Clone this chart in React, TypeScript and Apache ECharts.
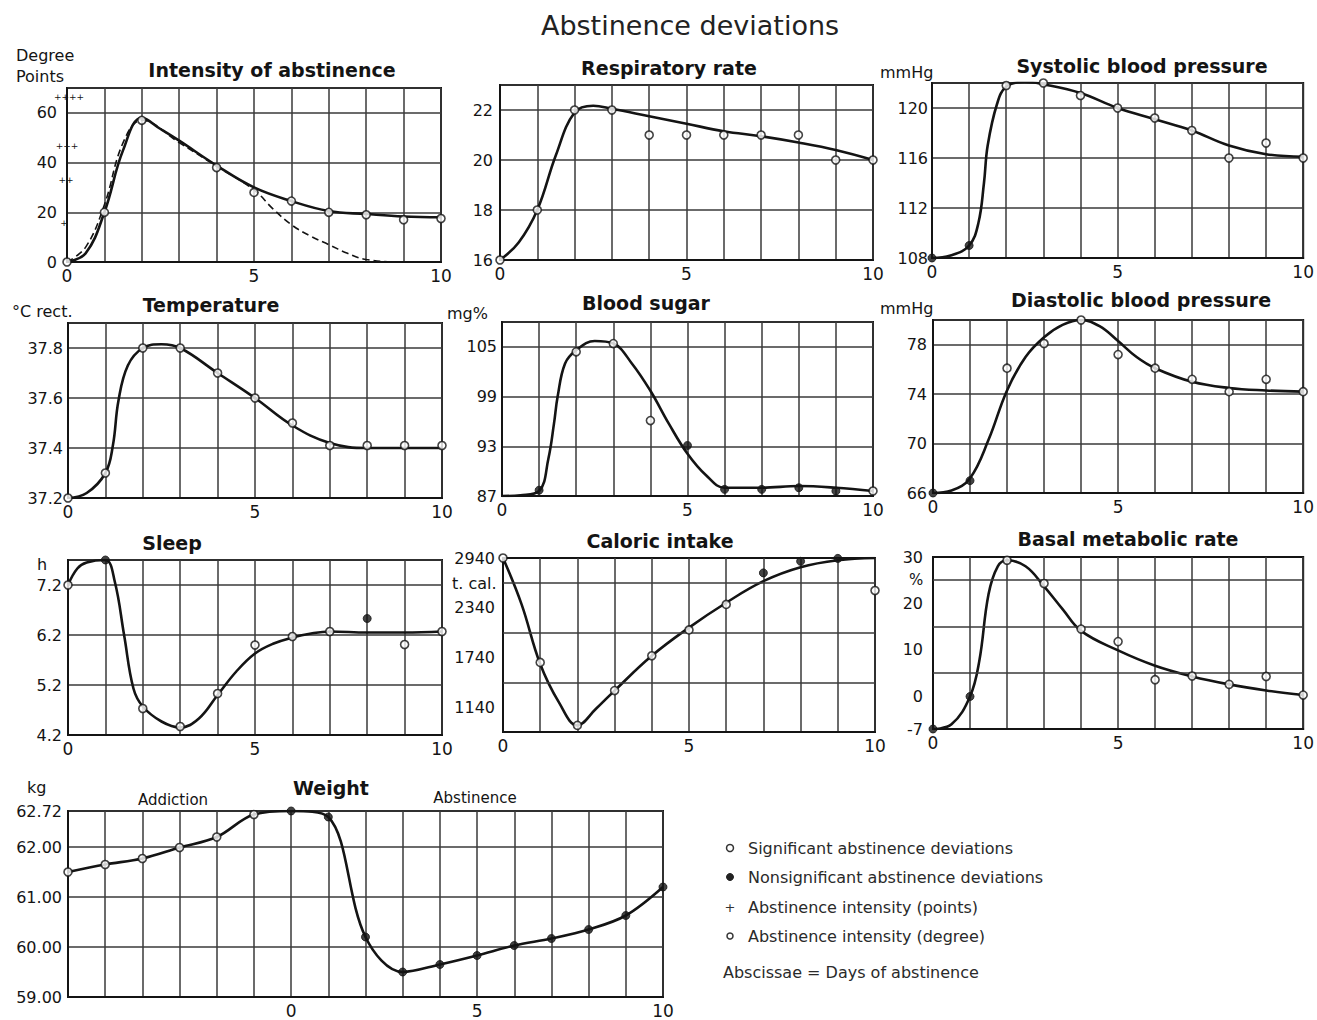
import React, { useEffect, useRef } from "react";
import * as echarts from "echarts";

// ---------------- DATA ----------------
const days = [0, 1, 2, 3, 4, 5, 6, 7, 8, 9, 10];
const weightDays = [-6, -5, -4, -3, -2, -1, 0, 1, 2, 3, 4, 5, 6, 7, 8, 9, 10];
const xTickLabels = [0, 5, 10];

// Intensity of abstinence
const intensityPoints = [0, 20, 57, null, 38, 28, 24.5, 20, 19, 17, 17.5];
const intensityFilled = [0, 0, 0, 0, 0, 0, 0, 0, 0, 0, 0];
const intensityCurveX = [0, 0.5, 1, 1.5, 2, 2.5, 3, 4, 5, 6, 7, 8, 9, 10];
const intensityCurveY = [0, 3.5, 20, 45, 58, 53.5, 48.8, 38.8, 30, 24.5, 20.5, 19.3, 18.3, 18];
const intensityDashX = [0, 0.5, 1, 1.5, 2, 3, 4, 5, 5.5, 6, 6.5, 7, 7.5, 8, 9, 10];
const intensityDashY = [0, 6, 23, 48, 57, 48, 38.5, 29, 21.5, 15, 10.5, 7, 3.5, 1, 0, 0];
const intensityTicks = [0, 20, 40, 60];

// Respiratory rate
const respPoints = [16, 18, 22, 22, 21, 21, 21, 21, 21, 20, 20];
const respFilled = [0, 0, 0, 0, 0, 0, 0, 0, 0, 0, 0];
const respCurveX = [0, 0.5, 1, 1.5, 2, 2.5, 3, 4, 5, 6, 7, 8, 9, 10];
const respCurveY = [16, 16.7, 18, 20.2, 21.9, 22.17, 22.05, 21.75, 21.45, 21.15, 20.95, 20.7, 20.4, 20.0];
const respTicks = [16, 18, 20, 22];

// Systolic blood pressure
const sysPoints = [108, 109, 121.8, 122, 121, 120, 119.2, 118.2, 116, 117.2, 116];
const sysFilled = [1, 1, 0, 0, 0, 0, 0, 0, 0, 0, 0];
const sysCurveX = [0, 0.5, 1, 1.25, 1.4, 1.5, 1.75, 2, 2.5, 3, 4, 5, 6, 7, 8, 9, 10];
const sysCurveY = [108, 108.2, 109, 110.8, 114, 117, 120.3, 121.7, 122.1, 121.9, 121.2, 120, 119.1, 118.2, 117, 116.3, 116.1];
const sysTicks = [108, 112, 116, 120];

// Temperature
const tempPoints = [37.2, 37.3, 37.8, 37.8, 37.7, 37.6, 37.5, 37.41, 37.41, 37.41, 37.41];
const tempFilled = [0, 0, 0, 0, 0, 0, 0, 0, 0, 0, 0];
const tempCurveX = [0, 0.5, 1, 1.2, 1.35, 1.6, 2, 2.5, 3, 4, 5, 6, 7, 8, 9, 10];
const tempCurveY = [37.2, 37.22, 37.3, 37.41, 37.59, 37.73, 37.8, 37.815, 37.8, 37.7, 37.6, 37.49, 37.42, 37.4, 37.4, 37.4];
const tempTicks = [37.2, 37.4, 37.6, 37.8];

// Blood sugar
const sugarPoints = [null, 87.7, 104.4, 105.4, 96.1, 93.1, 87.8, 87.8, 88, 87.6, 87.6];
const sugarFilled = [0, 1, 0, 0, 0, 1, 1, 1, 1, 1, 0];
const sugarCurveX = [0, 0.5, 1, 1.25, 1.4, 1.5, 1.7, 2, 2.5, 3, 3.5, 4, 4.5, 5, 5.5, 6, 7, 8, 9, 10];
const sugarCurveY = [87, 87.1, 87.6, 91.5, 95.7, 99, 103, 104.6, 105.7, 105.4, 103, 99.7, 95.7, 92.1, 89.5, 88, 88, 88.2, 88, 87.6];
const sugarTicks = [87, 93, 99, 105];

// Diastolic blood pressure
const diaPoints = [66, 67, 76.1, 78.1, 80, 77.2, 76.1, 75.2, 74.2, 75.2, 74.2];
const diaFilled = [1, 1, 0, 0, 0, 0, 0, 0, 0, 0, 0];
const diaCurveX = [0, 0.5, 1, 1.5, 2, 2.5, 3, 3.5, 4, 4.5, 5, 5.5, 6, 7, 8, 9, 10];
const diaCurveY = [66, 66.2, 67.2, 70.3, 74.3, 77, 78.6, 79.6, 80, 79.5, 78.3, 77, 76.1, 75, 74.5, 74.3, 74.2];
const diaTicks = [66, 70, 74, 78];

// Sleep
const sleepPoints = [7.2, 7.7, 4.73, 4.37, 5.03, 6.0, 6.17, 6.27, 6.53, 6.01, 6.27];
const sleepFilled = [0, 1, 0, 0, 0, 0, 0, 0, 1, 0, 0];
const sleepCurveX = [0, 0.25, 0.5, 1, 1.25, 1.5, 1.75, 2, 2.5, 3, 3.5, 4, 4.5, 5, 5.5, 6, 6.5, 7, 8, 9, 10];
const sleepCurveY = [7.2, 7.53, 7.65, 7.7, 7.27, 6.2, 5.13, 4.77, 4.47, 4.35, 4.53, 5.0, 5.47, 5.83, 6.03, 6.15, 6.23, 6.27, 6.25, 6.25, 6.27];
const sleepTicks = [4.2, 5.2, 6.2, 7.2];

// Caloric intake
const calPoints = [2940, 1680, 920, 1340, 1760, 2072, 2380, 2760, 2900, 2935, 2548];
const calFilled = [0, 0, 0, 0, 0, 0, 0, 1, 1, 1, 0];
const calCurveX = [0, 0.5, 1, 1.5, 2, 2.5, 3, 4, 5, 6, 7, 8, 9, 10];
const calCurveY = [2940, 2380, 1660, 1200, 920, 1120, 1340, 1760, 2100, 2400, 2660, 2828, 2912, 2940];
const calTicks = [1140, 1740, 2340, 2940];
const calGridLines = [1440, 2040, 2640];

// Basal metabolic rate
const basalPoints = [-7, 0, 29.3, 24.3, 14.5, 11.8, 3.6, 4.4, 2.6, 4.3, 0.3];
const basalFilled = [1, 1, 0, 0, 0, 0, 0, 0, 0, 0, 0];
const basalCurveX = [0, 0.5, 1, 1.25, 1.5, 1.75, 2, 2.5, 3, 3.5, 4, 5, 6, 7, 8, 9, 10];
const basalCurveY = [-7, -6, 0, 7.6, 22, 28, 29.3, 28, 23.7, 18.8, 14.1, 9.9, 6.6, 4.3, 2.6, 1.3, 0.3];
const basalTicks = [-7, 0, 10, 20, 30];
const basalGridLines = [5, 15, 25];

// Weight
const weightPoints = [61.5, 61.65, 61.77, 61.99, 62.2, 62.65, 62.72, 62.6, 60.2, 59.5, 59.65, 59.83, 60.03, 60.17, 60.35, 60.63, 61.2];
const weightFilled = [0, 0, 0, 0, 0, 0, 1, 1, 1, 1, 1, 1, 1, 1, 1, 1, 1];
const weightTicks = [59, 60, 61, 62, 62.72];

const panelTitles = [
  "Intensity of abstinence",
  "Respiratory rate",
  "Systolic blood pressure",
  "Temperature",
  "Blood sugar",
  "Diastolic blood pressure",
  "Sleep",
  "Caloric intake",
  "Basal metabolic rate",
  "Weight",
];

const legendItems = [
  "Significant abstinence deviations",
  "Nonsignificant abstinence deviations",
  "Abstinence intensity (points)",
  "Abstinence intensity (degree)",
];

// ---------------- STYLE ----------------
const FONT = '"DejaVu Sans", "Liberation Sans", sans-serif';
const INK = "#141414";
const GRID_INK = "#3a3a3a";

type Curve = { x: number[]; y: number[]; dashed?: boolean; smooth?: number };
type Panel = {
  rect: [number, number, number, number];
  xMin: number;
  xMax: number;
  yMin: number;
  yMax: number;
  yInterval: number;
  ticks: number[];
  digits: number;
  margin: number;
  axisGrid: boolean;
  extraGrid?: number[];
  curves: Curve[];
  pointX: number[];
  points: (number | null)[];
  filled: number[];
  titleY: number;
  titleX: number;
};

const panels: Panel[] = [
  { rect: [67, 88, 441, 262], xMin: 0, xMax: 10, yMin: 0, yMax: 70, yInterval: 20, ticks: intensityTicks, digits: 0, margin: 10, axisGrid: true,
    curves: [{ x: intensityDashX, y: intensityDashY, dashed: true }, { x: intensityCurveX, y: intensityCurveY }],
    pointX: days, points: intensityPoints, filled: intensityFilled, titleX: 272, titleY: 70 },
  { rect: [500, 85, 873, 260], xMin: 0, xMax: 10, yMin: 16, yMax: 23, yInterval: 2, ticks: respTicks, digits: 0, margin: 7, axisGrid: true,
    curves: [{ x: respCurveX, y: respCurveY }], pointX: days, points: respPoints, filled: respFilled, titleX: 669, titleY: 68 },
  { rect: [932, 83, 1305, 258], xMin: 0, xMax: 10, yMin: 108, yMax: 122, yInterval: 4, ticks: sysTicks, digits: 0, margin: 4, axisGrid: true,
    curves: [{ x: sysCurveX, y: sysCurveY }], pointX: days, points: sysPoints, filled: sysFilled, titleX: 1142, titleY: 66 },
  { rect: [68, 323, 442, 498], xMin: 0, xMax: 10, yMin: 37.2, yMax: 37.9, yInterval: 0.2, ticks: tempTicks, digits: 1, margin: 5, axisGrid: true,
    curves: [{ x: tempCurveX, y: tempCurveY }], pointX: days, points: tempPoints, filled: tempFilled, titleX: 211, titleY: 305 },
  { rect: [502, 322, 873, 496], xMin: 0, xMax: 10, yMin: 87, yMax: 108, yInterval: 6, ticks: sugarTicks, digits: 0, margin: 5, axisGrid: true,
    curves: [{ x: sugarCurveX, y: sugarCurveY }], pointX: days, points: sugarPoints, filled: sugarFilled, titleX: 646, titleY: 303 },
  { rect: [933, 320, 1305, 493], xMin: 0, xMax: 10, yMin: 66, yMax: 80, yInterval: 4, ticks: diaTicks, digits: 0, margin: 6, axisGrid: true,
    curves: [{ x: diaCurveX, y: diaCurveY }], pointX: days, points: diaPoints, filled: diaFilled, titleX: 1141, titleY: 300 },
  { rect: [68, 560, 442, 735], xMin: 0, xMax: 10, yMin: 4.2, yMax: 7.7, yInterval: 1, ticks: sleepTicks, digits: 1, margin: 6, axisGrid: true,
    curves: [{ x: sleepCurveX, y: sleepCurveY }], pointX: days, points: sleepPoints, filled: sleepFilled, titleX: 172, titleY: 543 },
  { rect: [503, 558, 875, 732], xMin: 0, xMax: 10, yMin: 840, yMax: 2940, yInterval: 300, ticks: calTicks, digits: 0, margin: 8, axisGrid: false, extraGrid: calGridLines,
    curves: [{ x: calCurveX, y: calCurveY }], pointX: days, points: calPoints, filled: calFilled, titleX: 660, titleY: 541 },
  { rect: [933, 557, 1305, 729], xMin: 0, xMax: 10, yMin: -7, yMax: 30, yInterval: 1, ticks: basalTicks, digits: 0, margin: 10, axisGrid: false, extraGrid: basalGridLines,
    curves: [{ x: basalCurveX, y: basalCurveY }], pointX: days, points: basalPoints, filled: basalFilled, titleX: 1128, titleY: 539 },
  { rect: [68, 811, 663, 997], xMin: -6, xMax: 10, yMin: 59, yMax: 62.72, yInterval: 1, ticks: weightTicks, digits: 2, margin: 6, axisGrid: true,
    curves: [{ x: weightDays, y: weightPoints, smooth: 0.35 }], pointX: weightDays, points: weightPoints, filled: weightFilled, titleX: 331, titleY: 788 },
];

function textEl(text: string, x: number, y: number, size: number, opts: any = {}) {
  const align = opts.align || "center";
  return {
    type: "text",
    x,
    y,
    silent: true,
    z: 10,
    style: {
      text,
      font: `${opts.bold ? "bold " : ""}${size}px ${FONT}`,
      fill: opts.color || INK,
      textAlign: align,
      align,
      textVerticalAlign: "middle",
      verticalAlign: "middle",
    },
  };
}

function buildOption() {
  const grid: any[] = [];
  const xAxis: any[] = [];
  const yAxis: any[] = [];
  const series: any[] = [];

  panels.forEach((p, i) => {
    const [l, t, r, b] = p.rect;
    grid.push({ left: l, top: t, width: r - l, height: b - t, show: true, borderColor: INK, borderWidth: 2, backgroundColor: "transparent" });
    xAxis.push({
      gridIndex: i,
      type: "value",
      min: p.xMin,
      max: p.xMax,
      interval: 1,
      axisLine: { show: true, onZero: false, lineStyle: { color: INK, width: 2 } },
      axisTick: { show: false },
      splitLine: { show: true, lineStyle: { color: GRID_INK, width: 1.5 } },
      axisLabel: {
        show: true,
        margin: 5,
        fontSize: 17,
        fontFamily: FONT,
        color: INK,
        showMinLabel: true,
        showMaxLabel: true,
        formatter: (v: number) => (xTickLabels.some((tk) => Math.abs(tk - v) < 1e-6) ? String(v) : ""),
      },
    });
    yAxis.push({
      gridIndex: i,
      type: "value",
      position: "left",
      min: p.yMin,
      max: p.yMax,
      interval: p.yInterval,
      axisLine: { show: true, onZero: false, lineStyle: { color: INK, width: 2 } },
      axisTick: { show: false },
      splitLine: { show: p.axisGrid, lineStyle: { color: GRID_INK, width: 1.5 } },
      axisLabel: {
        show: true,
        margin: p.margin,
        fontSize: 16,
        fontFamily: FONT,
        color: INK,
        showMinLabel: true,
        showMaxLabel: true,
        formatter: (v: number) => (p.ticks.some((tk) => Math.abs(tk - v) < 1e-6) ? v.toFixed(p.digits) : ""),
      },
    });

    if (p.extraGrid) {
      series.push({
        type: "line",
        xAxisIndex: i,
        yAxisIndex: i,
        data: [[p.xMin, p.yMin]],
        showSymbol: false,
        symbol: "none",
        lineStyle: { opacity: 0 },
        silent: true,
        z: 1,
        markLine: {
          silent: true,
          symbol: ["none", "none"],
          label: { show: false },
          lineStyle: { color: GRID_INK, width: 1.5, type: "solid" },
          emphasis: { disabled: true },
          data: p.extraGrid.map((v) => ({ yAxis: v })),
        },
      });
    }

    p.curves.forEach((c) => {
      series.push({
        type: "line",
        xAxisIndex: i,
        yAxisIndex: i,
        data: c.x.map((x, k) => [x, c.y[k]]),
        smooth: c.smooth ?? 0.4,
        showSymbol: false,
        symbol: "none",
        silent: true,
        z: 3,
        lineStyle: { color: INK, width: c.dashed ? 1.6 : 2.6, type: c.dashed ? [7, 4] : "solid" },
      });
    });

    const openPts: any[] = [];
    const fillPts: any[] = [];
    p.points.forEach((v, k) => {
      if (v == null) return;
      (p.filled[k] ? fillPts : openPts).push([p.pointX[k], v]);
    });
    series.push({
      type: "scatter",
      xAxisIndex: i,
      yAxisIndex: i,
      data: openPts,
      symbol: "circle",
      symbolSize: 8,
      silent: true,
      z: 5,
      itemStyle: { color: "#ffffff", borderColor: INK, borderWidth: 1.6 },
    });
    series.push({
      type: "scatter",
      xAxisIndex: i,
      yAxisIndex: i,
      data: fillPts,
      symbol: "circle",
      symbolSize: 8,
      silent: true,
      z: 5,
      itemStyle: { color: INK, borderColor: INK, borderWidth: 1 },
    });
  });

  const graphics: any[] = [];
  graphics.push(textEl("Abstinence deviations", 690, 25, 27, { color: "#222" }));
  panels.forEach((p, i) => graphics.push(textEl(panelTitles[i], p.titleX, p.titleY, 19, { bold: true })));

  // unit labels
  graphics.push(textEl("Degree", 16, 55, 16, { align: "left" }));
  graphics.push(textEl("Points", 16, 76, 16, { align: "left" }));
  graphics.push(textEl("mmHg", 880, 72, 16, { align: "left" }));
  graphics.push(textEl("°C rect.", 12, 311, 16, { align: "left" }));
  graphics.push(textEl("mg%", 447, 313, 16, { align: "left" }));
  graphics.push(textEl("mmHg", 880, 308, 16, { align: "left" }));
  graphics.push(textEl("h", 37, 564, 16, { align: "left" }));
  graphics.push(textEl("t. cal.", 452, 583, 16, { align: "left" }));
  graphics.push(textEl("%", 909, 580, 15, { align: "left" }));
  graphics.push(textEl("kg", 27, 787, 16, { align: "left" }));
  graphics.push(textEl("Addiction", 173, 800, 15));
  graphics.push(textEl("Abstinence", 475, 798, 15));

  // degree marks on intensity axis
  graphics.push(textEl("++++", 69, 97, 9));
  graphics.push(textEl("+++", 67, 146, 9));
  graphics.push(textEl("++", 66, 180, 9));
  graphics.push(textEl("+", 64, 223, 9));

  // legend
  const legendY = [848, 877, 907, 936];
  graphics.push({ type: "circle", silent: true, z: 10, shape: { cx: 730, cy: legendY[0], r: 3.5 }, style: { fill: "#fff", stroke: "#333", lineWidth: 1.5 } });
  graphics.push({ type: "circle", silent: true, z: 10, shape: { cx: 730, cy: legendY[1], r: 3.5 }, style: { fill: "#222", stroke: "#222", lineWidth: 1 } });
  graphics.push(textEl("+", 730, legendY[2], 13, { color: "#333" }));
  graphics.push({ type: "circle", silent: true, z: 10, shape: { cx: 730, cy: legendY[3], r: 3 }, style: { fill: "#fff", stroke: "#333", lineWidth: 1.5 } });
  legendItems.forEach((t, k) => graphics.push(textEl(t, 748, legendY[k], 16, { align: "left", color: "#2a2a2a" })));
  graphics.push(textEl("Abscissae = Days of abstinence", 723, 972, 16, { align: "left", color: "#2a2a2a" }));

  return {
    animation: false,
    backgroundColor: "#ffffff",
    grid,
    xAxis,
    yAxis,
    series,
    graphic: { elements: graphics },
  };
}

export default function App() {
  const ref = useRef<HTMLDivElement>(null);
  useEffect(() => {
    if (!ref.current) return;
    const chart = echarts.init(ref.current, undefined, { renderer: "svg", width: 1317, height: 1020 });
    chart.setOption(buildOption() as any);
    return () => chart.dispose();
  }, []);
  return (
    <div
      ref={ref}
      style={{ position: "absolute", left: 0, top: 0, width: 1317, height: 1020, background: "#fff" }}
    />
  );
}
